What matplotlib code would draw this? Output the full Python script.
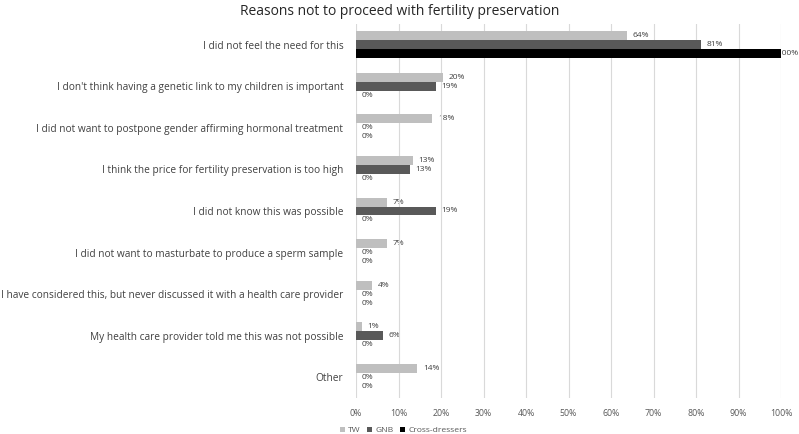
import matplotlib

matplotlib.use("Agg")
import matplotlib.pyplot as plt
import numpy as np

plt.rcParams["font.family"] = ["Open Sans", "DejaVu Sans"]

reasons = [
    "I did not feel the need for this",
    "I don't think having a genetic link to my children is important",
    "I did not want to postpone gender affirming hormonal treatment",
    "I think the price for fertility preservation is too high",
    "I did not know this was possible",
    "I did not want to masturbate to produce a sperm sample",
    "I have considered this, but never discussed it with a health care provider",
    "My health care provider told me this was not possible",
    "Other",
]
tw = [63.8, 20.4, 17.9, 13.3, 7.2, 7.2, 3.8, 1.3, 14.4]
gnb = [81.2, 18.8, 0, 12.6, 18.8, 0, 0, 6.3, 0]
cross_dressers = [100, 0, 0, 0, 0, 0, 0, 0, 0]

series = [("TW", tw, "#BFBFBF"), ("GNB", gnb, "#595959"), ("Cross-dressers", cross_dressers, "#000000")]

fig = plt.figure(figsize=(7.99, 4.34), dpi=100)
ax = fig.add_axes([356 / 799, 1 - 398 / 434, 425 / 799, 374 / 434])

y = np.arange(len(reasons))
h = 0.215
for i, (name, vals, color) in enumerate(series):
    pos = y + (i - 1) * h
    ax.barh(pos, vals, height=h, color=color, label=name, zorder=2)
    for p, v in zip(pos, vals):
        dx = -3 if v >= 99 else 4.2
        ax.annotate(f"{v:.0f}%", (v, p), xytext=(dx, 0), textcoords="offset points",
                    va="center", ha="left", fontsize=6, color="#404040", zorder=1)

ax.set_xlim(0, 100)
ax.set_ylim(len(reasons) - 0.5, -0.5)
ax.set_xticks(np.arange(0, 101, 10))
ax.set_xticklabels([f"{t}%" for t in range(0, 101, 10)], fontsize=6.3, color="#595959")
ax.set_yticks(y)
ax.set_yticklabels(reasons, fontsize=7.3, color="#404040")
ax.tick_params(axis="both", length=0)
ax.tick_params(axis="y", pad=9)
ax.tick_params(axis="x", pad=8)
ax.grid(axis="x", color="#D9D9D9", linewidth=0.8, zorder=0)
for s in ax.spines.values():
    s.set_visible(False)

fig.suptitle("Reasons not to proceed with fertility preservation", fontsize=10, color="#262626", y=0.99)

fig.legend(loc="lower left", bbox_to_anchor=(332 / 799, -0.018), ncol=3, frameon=False,
           fontsize=6.1, handlelength=0.6, handleheight=0.6, handletextpad=0.35,
           columnspacing=0.8, labelcolor="#595959")

fig.savefig("out.png", dpi=100)
